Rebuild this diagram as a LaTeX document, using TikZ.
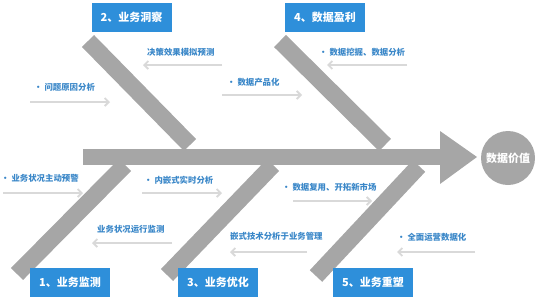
\documentclass[tikz,border=0pt]{standalone}
\usepackage{fontspec}
\setmainfont{Noto Sans CJK SC}
\usetikzlibrary{arrows.meta}
\definecolor{boxblue}{HTML}{2E8FDA}
\definecolor{txtblue}{HTML}{3A87C8}
\definecolor{bonegray}{HTML}{A6A6A6}
\definecolor{arrgray}{HTML}{D9D9D9}
\begin{document}
\begin{tikzpicture}[x=1pt,y=-1pt,
  stagebox/.style={fill=boxblue, text=white, font=\bfseries\fontsize{11}{12}\selectfont, minimum width=80pt, minimum height=29pt, inner sep=0pt},
  bone/.style={draw=bonegray, line width=17pt, line cap=butt},
  lbl/.style={text=txtblue, font=\bfseries\fontsize{8.4}{9}\selectfont, inner sep=0pt, anchor=west},
  flow/.style={draw=arrgray, line width=1.8pt, -{Straight Barb[length=4pt,width=8pt]}},
  valnode/.style={circle, fill=bonegray, minimum size=54pt, inner sep=0pt, text=white, font=\bfseries\fontsize{11}{12}\selectfont}]
\useasboundingbox (0,0) rectangle (541,300);
% bones
\draw[bone] (88,41) -- (190,145);
\draw[bone] (280,41) -- (385,145);
\draw[bone] (125,165) -- (17,274);
\draw[bone] (273,165) -- (167,275);
\draw[bone] (419,166) -- (316,276);
% spine and head
\fill[bonegray] (83,149) rectangle (441,165);
\fill[bonegray] (440,131) -- (477,157) -- (440,184) -- cycle;
\node[valnode] (val) at (508,158) {数据价值};
% stage boxes
\node[stagebox] (s2) at (131.5,17.5) {2、业务洞察};
\node[stagebox] (s4) at (325,17.5) {4、数据盈利};
\node[stagebox] (s1) at (70,282.5) {1、业务监测};
\node[stagebox] (s3) at (218,282.5) {3、业务优化};
\node[stagebox] (s5) at (373,282.5) {5、业务重塑};
% labels
\node[lbl] (l1) at (147,52) {决策效果模拟预测};
\node[lbl] (l2) at (34,87) {·\ 问题原因分析};
\node[lbl] (l3) at (227,82) {·\ 数据产品化};
\node[lbl] (l4) at (319,52) {·\ 数据挖掘、数据分析};
\node[lbl] (l5) at (1,178) {·\ 业务状况主动预警};
\node[lbl] (l6) at (144,180) {·\ 内嵌式实时分析};
\node[lbl] (l7) at (97,229) {业务状况运行监测};
\node[lbl] (l8) at (230,236) {嵌式技术分析于业务管理};
\node[lbl] (l9) at (282,187) {·\ 数据复用、开拓新市场};
\node[lbl] (l10) at (397,237) {·\ 全面运营数据化};
% arrow end points
\coordinate (a1s) at (222,65); \coordinate (a1e) at (143,65);
\coordinate (a2s) at (30,102); \coordinate (a2e) at (110,102);
\coordinate (a3s) at (222,95); \coordinate (a3e) at (302,95);
\coordinate (a4s) at (407,65); \coordinate (a4e) at (327,65);
\coordinate (a5s) at (3,193); \coordinate (a5e) at (83,193);
\coordinate (a6s) at (142,193); \coordinate (a6e) at (222,193);
\coordinate (a7s) at (172,243); \coordinate (a7e) at (92,243);
\coordinate (a8s) at (307,252); \coordinate (a8e) at (230,252);
\coordinate (a9s) at (293,201); \coordinate (a9e) at (372,201);
\coordinate (a10s) at (475,252); \coordinate (a10e) at (397,252);
\foreach \i in {1,...,10} {\draw[flow] (a\i s) -- (a\i e);}
\end{tikzpicture}
\end{document}
